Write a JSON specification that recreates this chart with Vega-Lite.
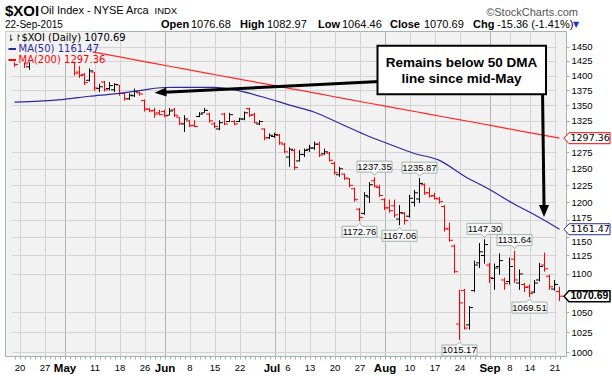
{
  "$schema": "https://vega.github.io/schema/vega-lite/v6.json",
  "width": 561,
  "height": 325,
  "autosize": {"type": "none"},
  "padding": {"left": 5, "top": 31, "right": 46, "bottom": 20},
  "background": "#ffffff",
  "config": {
    "view": {"fill": "#f2f2f2", "stroke": "#a3b5ae", "strokeWidth": 1},
    "text": {"font": "Liberation Sans"}
  },
  "datasets": {
    "bars": [
      {"date":"2015-04-17","open":1428,"high":1432,"low":1415,"close":1419},
      {"date":"2015-04-20","open":1424,"high":1440,"low":1424,"close":1437},
      {"date":"2015-04-21","open":1436,"high":1440,"low":1413,"close":1420},
      {"date":"2015-04-22","open":1415,"high":1432,"low":1410,"close":1428},
      {"date":"2015-04-23","open":1430,"high":1448,"low":1426,"close":1444},
      {"date":"2015-04-24","open":1443,"high":1447,"low":1430,"close":1434},
      {"date":"2015-04-27","open":1436,"high":1440,"low":1425,"close":1428},
      {"date":"2015-04-28","open":1428,"high":1450,"low":1426,"close":1447},
      {"date":"2015-04-29","open":1447,"high":1460,"low":1440,"close":1455},
      {"date":"2015-04-30","open":1452,"high":1456,"low":1430,"close":1434},
      {"date":"2015-05-01","open":1436,"high":1442,"low":1426,"close":1438},
      {"date":"2015-05-04","open":1440,"high":1446,"low":1428,"close":1432},
      {"date":"2015-05-05","open":1424,"high":1427,"low":1400,"close":1404},
      {"date":"2015-05-06","open":1406,"high":1416,"low":1396,"close":1400},
      {"date":"2015-05-07","open":1402,"high":1404,"low":1384,"close":1388},
      {"date":"2015-05-08","open":1392,"high":1412,"low":1390,"close":1408},
      {"date":"2015-05-11","open":1406,"high":1406,"low":1374,"close":1379},
      {"date":"2015-05-12","open":1378,"high":1386,"low":1372,"close":1381},
      {"date":"2015-05-13","open":1389,"high":1391,"low":1373,"close":1376},
      {"date":"2015-05-14","open":1378,"high":1389,"low":1375,"close":1383},
      {"date":"2015-05-15","open":1376,"high":1387,"low":1372,"close":1385},
      {"date":"2015-05-18","open":1384,"high":1384,"low":1366,"close":1370},
      {"date":"2015-05-19","open":1370,"high":1372,"low":1358,"close":1361},
      {"date":"2015-05-20","open":1361,"high":1370,"low":1359,"close":1367},
      {"date":"2015-05-21","open":1366,"high":1378,"low":1364,"close":1373},
      {"date":"2015-05-22","open":1371,"high":1373,"low":1366,"close":1369},
      {"date":"2015-05-26","open":1358,"high":1360,"low":1340,"close":1344},
      {"date":"2015-05-27","open":1344,"high":1346,"low":1339,"close":1341},
      {"date":"2015-05-28","open":1342,"high":1346,"low":1330,"close":1336},
      {"date":"2015-05-29","open":1338,"high":1343,"low":1334,"close":1335},
      {"date":"2015-06-01","open":1340,"high":1343,"low":1331,"close":1333},
      {"date":"2015-06-02","open":1334,"high":1346,"low":1334,"close":1341},
      {"date":"2015-06-03","open":1343,"high":1346,"low":1331,"close":1334},
      {"date":"2015-06-04","open":1331,"high":1331,"low":1318,"close":1321},
      {"date":"2015-06-05","open":1320,"high":1334,"low":1307,"close":1328},
      {"date":"2015-06-08","open":1325,"high":1326,"low":1315,"close":1317},
      {"date":"2015-06-09","open":1318,"high":1326,"low":1315,"close":1316},
      {"date":"2015-06-10","open":1332,"high":1339,"low":1331,"close":1336},
      {"date":"2015-06-11","open":1338,"high":1346,"low":1338,"close":1342},
      {"date":"2015-06-12","open":1336,"high":1338,"low":1322,"close":1325},
      {"date":"2015-06-15","open":1320,"high":1323,"low":1313,"close":1316},
      {"date":"2015-06-16","open":1312,"high":1326,"low":1310,"close":1322},
      {"date":"2015-06-17","open":1336,"high":1338,"low":1318,"close":1320},
      {"date":"2015-06-18","open":1324,"high":1338,"low":1323,"close":1335},
      {"date":"2015-06-19","open":1324,"high":1326,"low":1318,"close":1320},
      {"date":"2015-06-22","open":1324,"high":1330,"low":1323,"close":1328},
      {"date":"2015-06-23","open":1328,"high":1340,"low":1326,"close":1338},
      {"date":"2015-06-24","open":1345,"high":1346,"low":1331,"close":1334},
      {"date":"2015-06-25","open":1335,"high":1338,"low":1321,"close":1322},
      {"date":"2015-06-26","open":1320,"high":1326,"low":1318,"close":1324},
      {"date":"2015-06-29","open":1312,"high":1313,"low":1294,"close":1298},
      {"date":"2015-06-30","open":1298,"high":1305,"low":1296,"close":1302},
      {"date":"2015-07-01","open":1300,"high":1306,"low":1298,"close":1303},
      {"date":"2015-07-02","open":1302,"high":1304,"low":1287,"close":1290},
      {"date":"2015-07-06","open":1288,"high":1290,"low":1274,"close":1276},
      {"date":"2015-07-07","open":1268,"high":1283,"low":1253,"close":1280},
      {"date":"2015-07-08","open":1278,"high":1281,"low":1248,"close":1252},
      {"date":"2015-07-09","open":1262,"high":1279,"low":1261,"close":1272},
      {"date":"2015-07-10","open":1272,"high":1281,"low":1268,"close":1278},
      {"date":"2015-07-13","open":1280,"high":1287,"low":1276,"close":1282},
      {"date":"2015-07-14","open":1282,"high":1292,"low":1279,"close":1288},
      {"date":"2015-07-15","open":1288,"high":1292,"low":1268,"close":1271},
      {"date":"2015-07-16","open":1273,"high":1281,"low":1271,"close":1276},
      {"date":"2015-07-17","open":1274,"high":1276,"low":1261,"close":1263},
      {"date":"2015-07-20","open":1258,"high":1261,"low":1241,"close":1244},
      {"date":"2015-07-21","open":1241,"high":1253,"low":1238,"close":1250},
      {"date":"2015-07-22","open":1242,"high":1243,"low":1233,"close":1236},
      {"date":"2015-07-23","open":1235,"high":1236,"low":1222,"close":1225},
      {"date":"2015-07-24","open":1220,"high":1222,"low":1201,"close":1204},
      {"date":"2015-07-27","open":1190,"high":1192,"low":1172.76,"close":1178},
      {"date":"2015-07-28","open":1184,"high":1215,"low":1182,"close":1210},
      {"date":"2015-07-29","open":1208,"high":1230,"low":1199,"close":1226},
      {"date":"2015-07-30","open":1232,"high":1237.35,"low":1222,"close":1224},
      {"date":"2015-07-31","open":1222,"high":1226,"low":1208,"close":1210},
      {"date":"2015-08-03","open":1204,"high":1206,"low":1189,"close":1192},
      {"date":"2015-08-04","open":1192,"high":1204,"low":1185,"close":1188},
      {"date":"2015-08-05","open":1195,"high":1204,"low":1178,"close":1182},
      {"date":"2015-08-06","open":1176,"high":1196,"low":1167.06,"close":1185},
      {"date":"2015-08-07","open":1184,"high":1186,"low":1168,"close":1174},
      {"date":"2015-08-10","open":1180,"high":1211,"low":1178,"close":1206},
      {"date":"2015-08-11","open":1200,"high":1218,"low":1194,"close":1214},
      {"date":"2015-08-12","open":1205,"high":1235.87,"low":1199,"close":1228},
      {"date":"2015-08-13","open":1226,"high":1228,"low":1211,"close":1214},
      {"date":"2015-08-14","open":1214,"high":1222,"low":1207,"close":1209},
      {"date":"2015-08-17","open":1210,"high":1214,"low":1204,"close":1206},
      {"date":"2015-08-18","open":1205,"high":1208,"low":1198,"close":1201},
      {"date":"2015-08-19","open":1194,"high":1196,"low":1158,"close":1162},
      {"date":"2015-08-20","open":1162,"high":1171,"low":1144,"close":1146},
      {"date":"2015-08-21","open":1138,"high":1140,"low":1101,"close":1103},
      {"date":"2015-08-24","open":1035,"high":1079,"low":1015.17,"close":1062},
      {"date":"2015-08-25","open":1078,"high":1080,"low":1028,"close":1030},
      {"date":"2015-08-26","open":1034,"high":1058,"low":1028,"close":1056},
      {"date":"2015-08-27","open":1078,"high":1118,"low":1076,"close":1112},
      {"date":"2015-08-28","open":1115,"high":1142,"low":1108,"close":1130},
      {"date":"2015-08-31","open":1125,"high":1147.30,"low":1114,"close":1140},
      {"date":"2015-09-01","open":1112,"high":1115,"low":1088,"close":1095},
      {"date":"2015-09-02","open":1094,"high":1114,"low":1079,"close":1108},
      {"date":"2015-09-03","open":1110,"high":1128,"low":1099,"close":1118},
      {"date":"2015-09-04","open":1092,"high":1095,"low":1079,"close":1087},
      {"date":"2015-09-08","open":1090,"high":1122,"low":1086,"close":1110},
      {"date":"2015-09-09","open":1120,"high":1131.64,"low":1088,"close":1092},
      {"date":"2015-09-10","open":1088,"high":1106,"low":1079,"close":1100},
      {"date":"2015-09-11","open":1086,"high":1088,"low":1076,"close":1082},
      {"date":"2015-09-14","open":1083,"high":1086,"low":1069.51,"close":1074},
      {"date":"2015-09-15","open":1076,"high":1092,"low":1075,"close":1088},
      {"date":"2015-09-16","open":1092,"high":1115,"low":1090,"close":1110},
      {"date":"2015-09-17","open":1112,"high":1129,"low":1103,"close":1107},
      {"date":"2015-09-18","open":1097,"high":1099,"low":1079,"close":1083},
      {"date":"2015-09-21","open":1080,"high":1092,"low":1078,"close":1086.05},
      {"date":"2015-09-22","open":1076.68,"high":1082.97,"low":1064.46,"close":1070.69}
    ],
    "ma": [
      {"date":"2015-04-17","series":"MA50","value":1355.6},
      {"date":"2015-04-24","series":"MA50","value":1357.0},
      {"date":"2015-05-01","series":"MA50","value":1360.2},
      {"date":"2015-05-08","series":"MA50","value":1365.2},
      {"date":"2015-05-15","series":"MA50","value":1369.2},
      {"date":"2015-05-22","series":"MA50","value":1374.6},
      {"date":"2015-06-01","series":"MA50","value":1379.8},
      {"date":"2015-06-08","series":"MA50","value":1380.0},
      {"date":"2015-06-15","series":"MA50","value":1380.1},
      {"date":"2015-06-22","series":"MA50","value":1374.1},
      {"date":"2015-06-29","series":"MA50","value":1363.2},
      {"date":"2015-07-07","series":"MA50","value":1350.6},
      {"date":"2015-07-14","series":"MA50","value":1339.0},
      {"date":"2015-07-21","series":"MA50","value":1321.1},
      {"date":"2015-07-28","series":"MA50","value":1303.3},
      {"date":"2015-08-04","series":"MA50","value":1287.9},
      {"date":"2015-08-11","series":"MA50","value":1273.5},
      {"date":"2015-08-18","series":"MA50","value":1262.8},
      {"date":"2015-08-25","series":"MA50","value":1238.7},
      {"date":"2015-09-01","series":"MA50","value":1218.9},
      {"date":"2015-09-09","series":"MA50","value":1197.3},
      {"date":"2015-09-16","series":"MA50","value":1178.1},
      {"date":"2015-09-22","series":"MA50","value":1161.47},
      {"date":"2015-05-08","series":"MA200","value":1441.9},
      {"date":"2015-05-18","series":"MA200","value":1432.0},
      {"date":"2015-05-26","series":"MA200","value":1424.0},
      {"date":"2015-06-02","series":"MA200","value":1415.9},
      {"date":"2015-06-09","series":"MA200","value":1408.0},
      {"date":"2015-06-16","series":"MA200","value":1400.1},
      {"date":"2015-06-23","series":"MA200","value":1392.3},
      {"date":"2015-06-30","series":"MA200","value":1384.5},
      {"date":"2015-07-08","series":"MA200","value":1376.8},
      {"date":"2015-07-15","series":"MA200","value":1369.1},
      {"date":"2015-07-22","series":"MA200","value":1361.3},
      {"date":"2015-07-29","series":"MA200","value":1353.7},
      {"date":"2015-08-05","series":"MA200","value":1346.2},
      {"date":"2015-08-12","series":"MA200","value":1338.7},
      {"date":"2015-08-19","series":"MA200","value":1331.2},
      {"date":"2015-08-26","series":"MA200","value":1323.9},
      {"date":"2015-09-02","series":"MA200","value":1316.5},
      {"date":"2015-09-10","series":"MA200","value":1308.9},
      {"date":"2015-09-17","series":"MA200","value":1301.7},
      {"date":"2015-09-22","series":"MA200","value":1297.36}
    ],
    "swings": [
      {"date":"2015-07-27","value":1172.76,"pos":"below"},
      {"date":"2015-07-30","value":1237.35,"pos":"above"},
      {"date":"2015-08-06","value":1167.06,"pos":"below"},
      {"date":"2015-08-12","value":1235.87,"pos":"above"},
      {"date":"2015-08-24","value":1015.17,"pos":"below"},
      {"date":"2015-08-31","value":1147.30,"pos":"above"},
      {"date":"2015-09-09","value":1131.64,"pos":"above"},
      {"date":"2015-09-14","value":1069.51,"pos":"below"}
    ],
    "tags": [
      {"kind":"MA200","value":1297.36},
      {"kind":"MA50","value":1161.47},
      {"kind":"Close","value":1070.69}
    ]
  },
  "layer": [
    {
      "data": {"name": "bars"},
      "transform": [
        {"window": [{"op": "lag", "field": "close", "as": "prev"}], "sort": [{"field": "date"}]},
        {"calculate": "datum.close < (datum.prev != null ? datum.prev : datum.open) ? 'down' : 'up'", "as": "dir"}
      ],
      "encoding": {
        "x": {
          "field": "date", "type": "ordinal",
          "scale": {"type": "point", "range": [9.5, 554.5], "padding": 0},
          "axis": {
            "title": null, "orient": "bottom", "grid": true, "domain": false,
            "gridColor": {"condition": {"test": "indexof(['2015-05-01','2015-06-01','2015-07-01','2015-08-03','2015-09-01'], datum.value) >= 0", "value": "#b2b2b2"}, "value": "#d4d4d4"},
            "gridOpacity": {"condition": {"test": "indexof(['2015-04-20','2015-04-27','2015-05-01','2015-05-11','2015-05-18','2015-05-26','2015-06-01','2015-06-08','2015-06-15','2015-06-22','2015-07-01','2015-07-06','2015-07-13','2015-07-20','2015-07-27','2015-08-03','2015-08-10','2015-08-17','2015-08-24','2015-09-01','2015-09-08','2015-09-14','2015-09-21'], datum.value) >= 0", "value": 1}, "value": 0},
            "ticks": true, "tickSize": 3, "tickColor": "#9fb3ab",
            "labelExpr": "indexof(['2015-05-01','2015-06-01','2015-07-01','2015-08-03','2015-09-01'], datum.value) >= 0 ? ['Jan','Feb','Mar','Apr','May','Jun','Jul','Aug','Sep','Oct','Nov','Dec'][toNumber(slice(datum.value, 5, 7)) - 1] : (indexof(['2015-04-20','2015-04-27','2015-05-11','2015-05-18','2015-05-26','2015-06-08','2015-06-15','2015-06-22','2015-07-06','2015-07-13','2015-07-20','2015-07-27','2015-08-10','2015-08-17','2015-08-24','2015-09-08','2015-09-14','2015-09-21'], datum.value) >= 0 ? '' + toNumber(slice(datum.value, 8)) : '')",
            "labelAngle": 0, "labelOverlap": false, "labelPadding": 3, "labelFont": "Liberation Sans", "labelColor": "#000000",
            "labelOffset": {"condition": [{"test": "datum.value == '2015-07-01'", "value": -3}, {"test": "datum.value == '2015-07-06'", "value": 3}], "value": 0},
            "labelFontSize": {"condition": {"test": "indexof(['2015-05-01','2015-06-01','2015-07-01','2015-08-03','2015-09-01'], datum.value) >= 0", "value": 11.5}, "value": 9.5},
            "labelFontWeight": {"condition": {"test": "indexof(['2015-05-01','2015-06-01','2015-07-01','2015-08-03','2015-09-01'], datum.value) >= 0", "value": "bold"}, "value": "normal"}
          }
        },
        "color": {"field": "dir", "type": "nominal", "scale": {"domain": ["up", "down"], "range": ["#000000", "#ff0000"]}, "legend": null}
      },
      "layer": [
        {
          "mark": {"type": "rule", "strokeWidth": 1},
          "encoding": {
            "y": {
              "field": "low", "type": "quantitative",
              "scale": {"type": "log", "domain": [995.6, 1477.9], "nice": false, "zero": false},
              "axis": {
                "title": null, "orient": "right", "values": [1000,1025,1050,1100,1125,1150,1175,1200,1225,1250,1275,1325,1350,1375,1400,1425,1450],
                "grid": true, "gridColor": "#d4d4d4", "domain": false, "tickSize": 3, "tickColor": "#9fb3ab",
                "labelPadding": 2, "labelFont": "Liberation Sans", "labelFontSize": 9.5, "labelColor": "#000000", "format": "d", "labelOverlap": false, "labelFlush": false,
                "labelOffset": {"condition": [{"test": "datum.value == 1175", "value": -2}, {"test": "datum.value == 1150", "value": 4}], "value": 0}
              }
            },
            "y2": {"field": "high"}
          }
        },
        {
          "mark": {"type": "tick", "size": 3, "thickness": 1, "xOffset": -2, "opacity": 1},
          "encoding": {"y": {"field": "open", "type": "quantitative"}}
        },
        {
          "mark": {"type": "tick", "size": 3, "thickness": 1, "xOffset": 2, "opacity": 1},
          "encoding": {"y": {"field": "close", "type": "quantitative"}}
        }
      ]
    },
    {
      "data": {"name": "ma"},
      "transform": [{"filter": "datum.series == 'MA50'"}],
      "mark": {"type": "line", "color": "#2a2aa0", "strokeWidth": 1.2, "interpolate": "monotone"},
      "encoding": {"x": {"field": "date", "type": "ordinal"}, "y": {"field": "value", "type": "quantitative"}}
    },
    {
      "data": {"name": "ma"},
      "transform": [{"filter": "datum.series == 'MA200'"}],
      "mark": {"type": "line", "color": "#ff2a2a", "strokeWidth": 1.2, "interpolate": "monotone"},
      "encoding": {"x": {"field": "date", "type": "ordinal"}, "y": {"field": "value", "type": "quantitative"}}
    },
    {
      "data": {"values": [{}]},
      "mark": {"type": "rect", "fill": "#f2f2f2", "xOffset": -9, "x2Offset": 3},
      "encoding": {
        "x": {"datum": "2015-04-17", "type": "ordinal"}, "x2": {"datum": "2015-05-08"},
        "y": {"datum": 1477, "type": "quantitative"}, "y2": {"datum": 1423}
      }
    },
    {
      "data": {"values": [{}]},
      "mark": {"type": "text", "text": "$XOI (Daily) 1070.69", "font": "DejaVu Sans", "fontSize": 10, "align": "left", "baseline": "middle", "dx": 7, "dy": 7, "color": "#000000"},
      "encoding": {"x": {"datum": "2015-04-17", "type": "ordinal"}, "y": {"datum": 1477.9, "type": "quantitative"}}
    },
    {
      "data": {"values": [{}]},
      "mark": {"type": "text", "text": "MA(50) 1161.47", "font": "DejaVu Sans", "fontSize": 10, "align": "left", "baseline": "middle", "dx": 4, "dy": 18, "color": "#2a2aa0"},
      "encoding": {"x": {"datum": "2015-04-17", "type": "ordinal"}, "y": {"datum": 1477.9, "type": "quantitative"}}
    },
    {
      "data": {"values": [{}]},
      "mark": {"type": "text", "text": "MA(200) 1297.36", "font": "DejaVu Sans", "fontSize": 10, "align": "left", "baseline": "middle", "dx": 4, "dy": 29, "color": "#ff0000"},
      "encoding": {"x": {"datum": "2015-04-17", "type": "ordinal"}, "y": {"datum": 1477.9, "type": "quantitative"}}
    },
    {
      "data": {"values": [{}]},
      "mark": {"type": "rule", "color": "#2a2aa0", "strokeWidth": 2, "xOffset": -6, "x2Offset": 1.5},
      "encoding": {"x": {"datum": "2015-04-17", "type": "ordinal"}, "x2": {"datum": "2015-04-17"}, "y": {"datum": 1445.9, "type": "quantitative"}}
    },
    {
      "data": {"values": [{}]},
      "mark": {"type": "rule", "color": "#ff0000", "strokeWidth": 2, "xOffset": -6, "x2Offset": 1.5},
      "encoding": {"x": {"datum": "2015-04-17", "type": "ordinal"}, "x2": {"datum": "2015-04-17"}, "y": {"datum": 1426.7, "type": "quantitative"}}
    },
    {
      "data": {"values": [{}]},
      "mark": {"type": "text", "text": "⇂↾", "font": "DejaVu Sans", "fontSize": 9, "align": "left", "baseline": "middle", "dx": -7.5, "dy": 7, "color": "#000000"},
      "encoding": {"x": {"datum": "2015-04-17", "type": "ordinal"}, "y": {"datum": 1477.9, "type": "quantitative"}}
    },
    {
      "data": {"name": "swings"},
      "transform": [{"filter": "datum.pos == 'above'"}],
      "encoding": {"x": {"field": "date", "type": "ordinal"}, "y": {"field": "value", "type": "quantitative"}},
      "layer": [
        {"mark": {"type": "point", "shape": "M0,-2 L-3,-5 L-17.5,-5 L-17.5,-16 L17.5,-16 L17.5,-5 L3,-5 Z", "size": 4, "filled": true, "fill": "#f9f9f9", "stroke": "#9db2aa", "strokeWidth": 1, "opacity": 1}},
        {"mark": {"type": "text", "font": "Liberation Sans", "fontSize": 9.5, "baseline": "middle", "align": "center", "dy": -10.5, "color": "#000000"}, "encoding": {"text": {"field": "value", "type": "quantitative", "format": ".2f"}}}
      ]
    },
    {
      "data": {"name": "swings"},
      "transform": [{"filter": "datum.pos == 'below'"}],
      "encoding": {"x": {"field": "date", "type": "ordinal"}, "y": {"field": "value", "type": "quantitative"}},
      "layer": [
        {"mark": {"type": "point", "shape": "M0,2 L3,5 L17.5,5 L17.5,16 L-17.5,16 L-17.5,5 L-3,5 Z", "size": 4, "filled": true, "fill": "#f9f9f9", "stroke": "#9db2aa", "strokeWidth": 1, "opacity": 1}},
        {"mark": {"type": "text", "font": "Liberation Sans", "fontSize": 9.5, "baseline": "middle", "align": "center", "dy": 10.5, "color": "#000000"}, "encoding": {"text": {"field": "value", "type": "quantitative", "format": ".2f"}}}
      ]
    },
    {
      "data": {"values": [{}]},
      "mark": {"type": "rule", "color": "#000000", "strokeWidth": 3, "xOffset": 0, "x2Offset": 0},
      "encoding": {"x": {"datum": "2015-06-01", "type": "ordinal"}, "x2": {"datum": "2015-08-04"}, "y": {"datum": 1371.9, "type": "quantitative"}, "y2": {"datum": 1390.8}}
    },
    {
      "data": {"values": [{}]},
      "mark": {"type": "point", "shape": "M0,0 L12,-4.5 L12,4.5 Z", "size": 4, "filled": true, "color": "#000000", "opacity": 1, "angle": -2.85},
      "encoding": {"x": {"datum": "2015-05-28", "type": "ordinal"}, "y": {"datum": 1371.1, "type": "quantitative"}}
    },
    {
      "data": {"values": [{}]},
      "mark": {"type": "rule", "color": "#000000", "strokeWidth": 3, "xOffset": -2, "x2Offset": -0.5},
      "encoding": {"x": {"datum": "2015-09-17", "type": "ordinal"}, "x2": {"datum": "2015-09-17"}, "y": {"datum": 1375.6, "type": "quantitative"}, "y2": {"datum": 1196.1}}
    },
    {
      "data": {"values": [{}]},
      "mark": {"type": "point", "shape": "M0,0 L-5,-12 L5,-12 Z", "size": 4, "filled": true, "color": "#000000", "opacity": 1, "xOffset": -0.5},
      "encoding": {"x": {"datum": "2015-09-17", "type": "ordinal"}, "y": {"datum": 1178.9, "type": "quantitative"}}
    },
    {
      "data": {"values": [{}]},
      "mark": {"type": "rect", "fill": "#ffffff", "stroke": "#000000", "strokeWidth": 2, "xOffset": -2, "x2Offset": 1.5},
      "encoding": {"x": {"datum": "2015-07-31", "type": "ordinal"}, "x2": {"datum": "2015-09-17"}, "y": {"datum": 1451.7, "type": "quantitative"}, "y2": {"datum": 1368.5}}
    },
    {
      "data": {"values": [{}]},
      "mark": {"type": "text", "text": "Remains below 50 DMA", "font": "Liberation Sans", "fontWeight": "bold", "fontSize": 13.5, "align": "center", "baseline": "middle", "dx": 2, "color": "#000000"},
      "encoding": {"x": {"datum": "2015-08-24", "type": "ordinal"}, "y": {"datum": 1421.0, "type": "quantitative"}}
    },
    {
      "data": {"values": [{}]},
      "mark": {"type": "text", "text": "line since mid-May", "font": "Liberation Sans", "fontWeight": "bold", "fontSize": 13.5, "align": "center", "baseline": "middle", "dx": 2, "color": "#000000"},
      "encoding": {"x": {"datum": "2015-08-24", "type": "ordinal"}, "y": {"datum": 1393.6, "type": "quantitative"}}
    },
    {
      "data": {"name": "tags"},
      "transform": [{"filter": "datum.kind == 'MA200'"}],
      "encoding": {"x": {"datum": "2015-09-22", "type": "ordinal"}, "y": {"field": "value", "type": "quantitative"}},
      "layer": [
        {"mark": {"type": "point", "shape": "M-2,0 L3,-5.5 L44,-5.5 L44,5.5 L3,5.5 Z", "size": 4, "filled": true, "fill": "#ffffff", "stroke": "#ff0000", "strokeWidth": 1, "opacity": 1, "xOffset": 6.5}},
        {"mark": {"type": "text", "font": "DejaVu Sans", "fontSize": 9.5, "align": "left", "baseline": "middle", "dx": 11, "color": "#000000"}, "encoding": {"text": {"field": "value", "type": "quantitative", "format": ".2f"}}}
      ]
    },
    {
      "data": {"name": "tags"},
      "transform": [{"filter": "datum.kind == 'MA50'"}],
      "encoding": {"x": {"datum": "2015-09-22", "type": "ordinal"}, "y": {"field": "value", "type": "quantitative"}},
      "layer": [
        {"mark": {"type": "point", "shape": "M-2,0 L3,-5.5 L44,-5.5 L44,5.5 L3,5.5 Z", "size": 4, "filled": true, "fill": "#ffffff", "stroke": "#2a2aa0", "strokeWidth": 1, "opacity": 1, "xOffset": 6.5}},
        {"mark": {"type": "text", "font": "DejaVu Sans", "fontSize": 9.5, "align": "left", "baseline": "middle", "dx": 11, "color": "#000000"}, "encoding": {"text": {"field": "value", "type": "quantitative", "format": ".2f"}}}
      ]
    },
    {
      "data": {"name": "tags"},
      "transform": [{"filter": "datum.kind == 'Close'"}],
      "encoding": {"x": {"datum": "2015-09-22", "type": "ordinal"}, "y": {"field": "value", "type": "quantitative"}},
      "layer": [
        {"mark": {"type": "point", "shape": "M-2,0 L3,-5.5 L44,-5.5 L44,5.5 L3,5.5 Z", "size": 4, "filled": true, "fill": "#ffffff", "stroke": "#000000", "strokeWidth": 1.5, "opacity": 1, "xOffset": 6.5}},
        {"mark": {"type": "text", "font": "Liberation Sans", "fontSize": 10.5, "fontWeight": "bold", "align": "left", "baseline": "middle", "dx": 11, "color": "#000000"}, "encoding": {"text": {"field": "value", "type": "quantitative", "format": ".2f"}}}
      ]
    },
    {
      "data": {"values": [{}]},
      "encoding": {"x": {"datum": "2015-04-17", "type": "ordinal"}, "y": {"datum": 1477.9, "type": "quantitative"}},
      "layer": [
        {"mark": {"type": "text", "text": "$XOI", "fontWeight": "bold", "fontSize": 15, "align": "left", "baseline": "middle", "dx": -9.5, "dy": -20, "color": "#000000"}},
        {"mark": {"type": "text", "text": "Oil Index - NYSE Arca", "fontSize": 11, "align": "left", "baseline": "middle", "dx": 26, "dy": -20, "color": "#000000"}},
        {"mark": {"type": "text", "text": "INDX", "fontSize": 9.5, "align": "left", "baseline": "middle", "dx": 140, "dy": -20, "color": "#000000"}},
        {"mark": {"type": "text", "text": "22-Sep-2015", "fontSize": 10, "align": "left", "baseline": "middle", "dx": -9.5, "dy": -6.5, "color": "#000000"}}
      ]
    },
    {
      "data": {"values": [{}]},
      "encoding": {"x": {"datum": "2015-09-22", "type": "ordinal"}, "y": {"datum": 1477.9, "type": "quantitative"}},
      "layer": [
        {"mark": {"type": "text", "text": "©StockCharts.com", "fontSize": 11, "align": "right", "baseline": "middle", "dx": 18.5, "dy": -18, "color": "#555555"}},
        {"mark": {"type": "text", "text": "Open", "fontWeight": "bold", "fontSize": 11, "align": "left", "baseline": "middle", "dx": -398.5, "dy": -6.5, "color": "#000000"}},
        {"mark": {"type": "text", "text": "1076.68", "fontSize": 11, "align": "left", "baseline": "middle", "dx": -368.5, "dy": -6.5, "color": "#000000"}},
        {"mark": {"type": "text", "text": "High", "fontWeight": "bold", "fontSize": 11, "align": "left", "baseline": "middle", "dx": -319.5, "dy": -6.5, "color": "#000000"}},
        {"mark": {"type": "text", "text": "1082.97", "fontSize": 11, "align": "left", "baseline": "middle", "dx": -292.5, "dy": -6.5, "color": "#000000"}},
        {"mark": {"type": "text", "text": "Low", "fontWeight": "bold", "fontSize": 11, "align": "left", "baseline": "middle", "dx": -241.5, "dy": -6.5, "color": "#000000"}},
        {"mark": {"type": "text", "text": "1064.46", "fontSize": 11, "align": "left", "baseline": "middle", "dx": -217.5, "dy": -6.5, "color": "#000000"}},
        {"mark": {"type": "text", "text": "Close", "fontWeight": "bold", "fontSize": 11, "align": "left", "baseline": "middle", "dx": -169.5, "dy": -6.5, "color": "#000000"}},
        {"mark": {"type": "text", "text": "1070.69", "fontSize": 11, "align": "left", "baseline": "middle", "dx": -135.5, "dy": -6.5, "color": "#000000"}},
        {"mark": {"type": "text", "text": "Chg", "fontWeight": "bold", "fontSize": 11, "align": "left", "baseline": "middle", "dx": -86.5, "dy": -6.5, "color": "#000000"}},
        {"mark": {"type": "text", "text": "-15.36 (-1.41%)", "fontSize": 11, "align": "left", "baseline": "middle", "dx": -62.5, "dy": -6.5, "color": "#000000"}},
        {"mark": {"type": "text", "text": "▼", "font": "DejaVu Sans", "fontSize": 8, "align": "left", "baseline": "middle", "dx": 13.5, "dy": -6, "color": "#2233cc"}}
      ]
    }
  ]
}
